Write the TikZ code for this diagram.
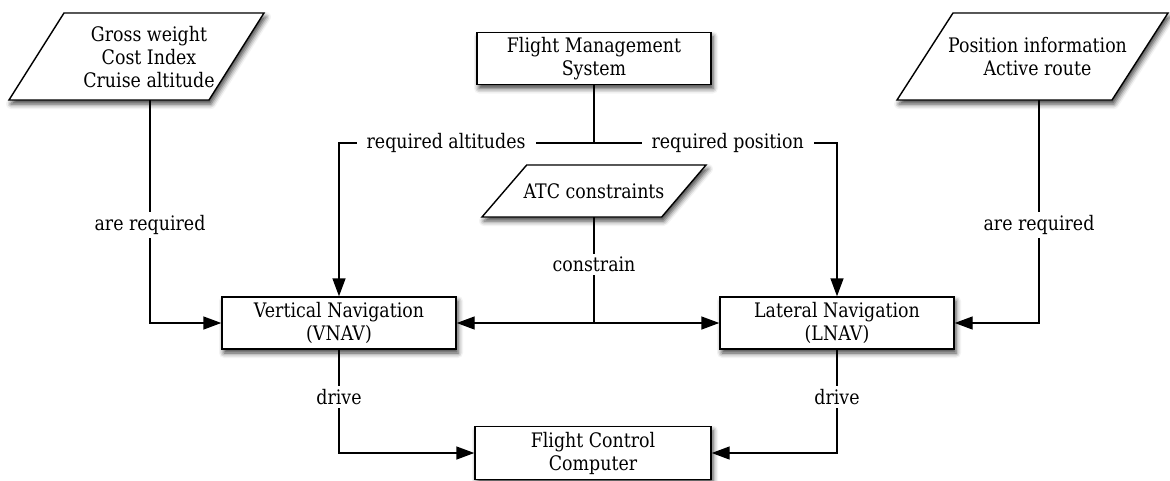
\documentclass[tikz,border=0pt]{standalone}
\usepackage{fontspec}
\setmainfont{DejaVu Serif}[FakeStretch=0.87]
\usetikzlibrary{arrows.meta,shadows.blur}
\begin{document}
\begin{tikzpicture}[x=1pt,y=-1pt,
  font=\fontsize{20}{23}\selectfont,
  shade/.style={blur shadow={shadow xshift=2pt,shadow yshift=-4pt,shadow blur radius=5pt,shadow opacity=75}},
  box/.style={draw,line width=1.4pt,fill=white,minimum width=234pt,minimum height=52pt,
    align=center,inner sep=0pt,shade},
  para/.style={draw,line width=1.4pt,fill=white,shade,line join=miter},
  paratext/.style={align=center,inner sep=0pt},
  link/.style={line width=1.4pt},
  arr/.style={link,-{Triangle[length=18pt,width=13pt,fill=black]}},
  lbl/.style={fill=white,inner xsep=10pt,inner ysep=3pt}
]
\useasboundingbox (0,0) rectangle (1170,480);

% rectangular process boxes
\node[box] (fms) at (594,58.5) {Flight Management\\System};
\node[box] (vnav) at (339,323) {Vertical Navigation\\(VNAV)};
\node[box] (lnav) at (837,323) {Lateral Navigation\\(LNAV)};
\node[box,minimum width=236pt,minimum height=53pt] (fcc) at (593,453) {Flight Control\\Computer};

% input data (parallelograms)
\draw[para] (64,13) -- (264,13) -- (209,100) -- (9,100) -- cycle;
\node[paratext] (gross) at (149,57) {Gross weight\\Cost Index\\Cruise altitude};
\coordinate (grossout) at (150,100);

\draw[para] (953,13) -- (1168,13) -- (1112,100) -- (897,100) -- cycle;
\node[paratext] (posinfo) at (1037.5,57) {Position information\\Active route};
\coordinate (posout) at (1039,100);

\draw[para] (526.7,165) -- (706,165) -- (661.7,217) -- (482,217) -- cycle;
\node[paratext] (atc) at (594,191) {ATC constraints};
\coordinate (atcout) at (594,217);

% connectors
\coordinate (bus) at (594,143);
\coordinate (junc) at (594,323);
\draw[link] (fms.south) -- (bus);
\draw[arr] (bus) -- node[lbl,pos=0.58]{required altitudes} (bus -| vnav.north) -- (vnav.north);
\draw[arr] (bus) -- node[lbl,pos=0.55]{required position} (bus -| lnav.north) -- (lnav.north);
\draw[link] (atcout) -- node[lbl,pos=0.45]{constrain} (junc);
\draw[arr] (junc) -- (vnav.east);
\draw[arr] (junc) -- (lnav.west);
\draw[arr] (grossout) |- node[lbl,pos=0.28]{are required} (vnav.west);
\draw[arr] (posout) |- node[lbl,pos=0.28]{are required} (lnav.east);
\draw[arr] (vnav.south) |- node[lbl,pos=0.23]{drive} (fcc.west);
\draw[arr] (lnav.south) |- node[lbl,pos=0.23]{drive} (fcc.east);
\end{tikzpicture}
\end{document}
